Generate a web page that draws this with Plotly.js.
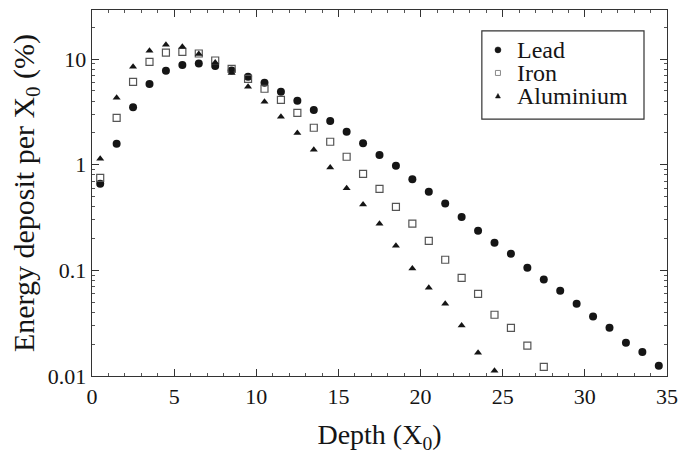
<!DOCTYPE html>
<html>
<head>
<meta charset="utf-8">
<script src="https://cdn.plot.ly/plotly-3.0.1.min.js"></script>
<style>html,body{margin:0;padding:0;background:#fff;}#chart{width:678px;height:457px;}</style>
</head>
<body>
<div id="chart"></div>
<script>
const depthLead = [0.5,1.5,2.5,3.5,4.5,5.5,6.5,7.5,8.5,9.5,10.5,11.5,12.5,13.5,14.5,15.5,16.5,17.5,18.5,19.5,20.5,21.5,22.5,23.5,24.5,25.5,26.5,27.5,28.5,29.5,30.5,31.5,32.5,33.5,34.5];
const lead = [0.66,1.58,3.5,5.8,7.75,8.8,9.1,8.6,7.8,6.8,5.97,4.9,4.03,3.3,2.6,2.05,1.6,1.24,0.98,0.73,0.555,0.43,0.32,0.237,0.183,0.144,0.106,0.082,0.064,0.0484,0.0365,0.0286,0.0206,0.0169,0.0125];
const depthIron = [0.5,1.5,2.5,3.5,4.5,5.5,6.5,7.5,8.5,9.5,10.5,11.5,12.5,13.5,14.5,15.5,16.5,17.5,18.5,19.5,20.5,21.5,22.5,23.5,24.5,25.5,26.5,27.5];
const iron = [0.75,2.78,6.1,9.4,11.5,11.7,11.3,9.7,8.1,6.5,5.24,4.12,3.1,2.24,1.65,1.19,0.82,0.59,0.4,0.277,0.19,0.126,0.085,0.06,0.038,0.0286,0.0194,0.0122];
const depthAl = [0.5,1.5,2.5,3.5,4.5,5.5,6.5,7.5,8.5,9.5,10.5,11.5,12.5,13.5,14.5,15.5,16.5,17.5,18.5,19.5,20.5,21.5,22.5,23.5,24.5];
const aluminium = [1.14,4.3,8.45,12,13.7,13.1,11.2,9.3,7.4,5.47,3.95,2.85,2.0,1.39,0.94,0.6,0.42,0.277,0.171,0.104,0.0686,0.0484,0.030,0.0166,0.0112];
const seriesNames = ['Lead','Iron','Aluminium'];
const xTickVals = [0,5,10,15,20,25,30,35];
const yTickVals = [0.01,0.1,1,10];
const yTickText = ['0.01','0.1','1','10'];

const FONT = 'Liberation Serif, Times New Roman, serif';
const INK = '#151515';

const traces = [
  {x: depthLead, y: lead, name: seriesNames[0], type: 'scatter', mode: 'markers',
   marker: {symbol: 'circle', size: 8, color: INK}},
  {x: depthIron, y: iron, name: seriesNames[1], type: 'scatter', mode: 'markers',
   marker: {symbol: 'square-open', size: 7, color: '#555', line: {width: 1.2, color: '#555'}}},
  {x: depthAl, y: aluminium, name: seriesNames[2], type: 'scatter', mode: 'markers',
   marker: {symbol: 'triangle-up', size: 7, color: INK}}
];

const minorY = [];
[0.01,0.1,1,10].forEach(d => { for (let k = 2; k <= 9; k++) minorY.push(d*k); });

// hand-made legend (box, symbols, labels) in paper coordinates
const legX0 = 0.678, legX1 = 0.96, legY0 = 0.702, legY1 = 0.943;
const legRowsY = [0.891, 0.828, 0.765];
const legSymX = 0.706, legTextX = 0.735;
const shapes = [
  {type: 'rect', xref: 'paper', yref: 'paper', x0: legX0, x1: legX1, y0: legY0, y1: legY1,
   line: {color: '#333', width: 1.2}, fillcolor: 'rgba(0,0,0,0)'},
  {type: 'circle', xref: 'paper', yref: 'paper', xsizemode: 'pixel', ysizemode: 'pixel',
   xanchor: legSymX, yanchor: legRowsY[0], x0: -3, x1: 3, y0: -3, y1: 3,
   fillcolor: INK, line: {color: INK, width: 0.5}},
  {type: 'rect', xref: 'paper', yref: 'paper', xsizemode: 'pixel', ysizemode: 'pixel',
   xanchor: legSymX, yanchor: legRowsY[1], x0: -2.5, x1: 2.5, y0: -2.5, y1: 2.5,
   fillcolor: 'rgba(0,0,0,0)', line: {color: '#888', width: 1}},
  {type: 'path', xref: 'paper', yref: 'paper', xsizemode: 'pixel', ysizemode: 'pixel',
   xanchor: legSymX, yanchor: legRowsY[2], path: 'M -2.5 -2 L 2.5 -2 L 0 2.5 Z',
   fillcolor: INK, line: {color: INK, width: 0.5}}
];
const annotations = seriesNames.map((n, i) => ({
  text: n, xref: 'paper', yref: 'paper', x: legTextX, y: legRowsY[i],
  xanchor: 'left', yanchor: 'middle', showarrow: false,
  font: {family: FONT, size: 24, color: INK}
}));

const layout = {
  width: 678, height: 457,
  margin: {l: 92, r: 11, t: 10, b: 81},
  paper_bgcolor: '#fff', plot_bgcolor: '#fff',
  font: {family: FONT, color: INK, size: 18},
  showlegend: false,
  shapes: shapes,
  annotations: annotations,
  xaxis: {
    range: [0, 35], tickmode: 'array', tickvals: xTickVals,
    ticks: 'inside', ticklen: 7, tickwidth: 1, tickcolor: '#333',
    showline: true, linecolor: '#333', linewidth: 1.3, mirror: 'ticks',
    showgrid: false, zeroline: false,
    tickfont: {family: FONT, size: 22, color: INK},
    minor: {tickmode: 'linear', tick0: 0, dtick: 1, ticks: 'inside', ticklen: 3, tickcolor: '#555', showgrid: false},
    title: {text: 'Depth (X<sub>0</sub>)', font: {family: FONT, size: 28, color: INK}, standoff: 16}
  },
  yaxis: {
    type: 'log', range: [-2, 1.465], tickmode: 'array', tickvals: yTickVals, ticktext: yTickText,
    ticks: 'inside', ticklen: 7, tickwidth: 1, tickcolor: '#333',
    showline: true, linecolor: '#333', linewidth: 1.3, mirror: 'ticks',
    showgrid: false, zeroline: false,
    tickfont: {family: FONT, size: 22, color: INK},
    minor: {tickmode: 'array', tickvals: minorY, ticks: 'inside', ticklen: 3, tickcolor: '#555', showgrid: false},
    title: {text: 'Energy deposit per X<sub>0</sub> (%)', font: {family: FONT, size: 30, color: INK}, standoff: 4}
  }
};

Plotly.newPlot('chart', traces, layout, {displayModeBar: false, staticPlot: true});
</script>
</body>
</html>
